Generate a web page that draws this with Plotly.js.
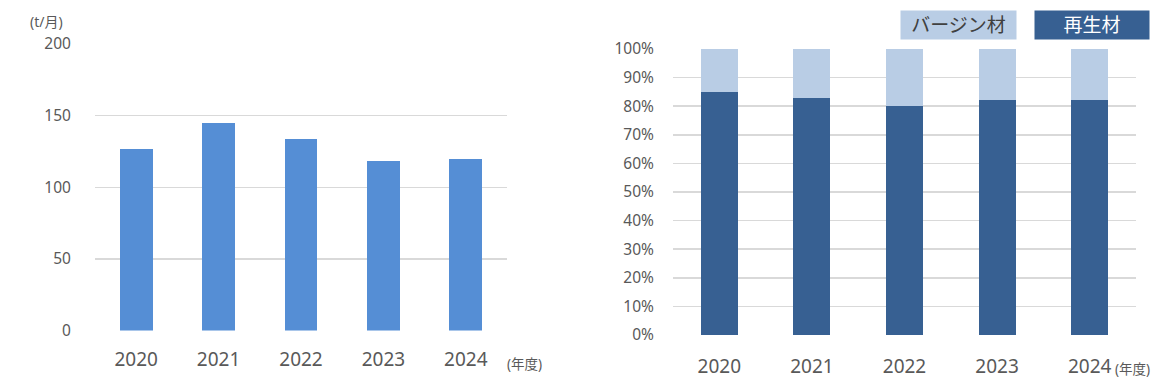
<!DOCTYPE html>
<html>
<head>
<meta charset="utf-8">
<script src="https://cdn.plot.ly/plotly-3.0.1.min.js"></script>
<style>html,body{margin:0;padding:0;background:#fff;}#chart{width:1164px;height:385px;}</style>
</head>
<body>
<div id="chart"></div>
<script>
// Data
const years = ['2020', '2021', '2022', '2023', '2024'];
const volumeTonsPerMonth = [127, 145, 134, 118, 120];
const recycledShare = [85, 83, 80, 82, 82];
const virginShare = [15, 17, 20, 18, 18];
const seriesNames = ['再生材', 'バージン材'];
const volumeUnit = '(t/月)';
const yearUnit = '(年度)';

const FONT = 'Noto Sans, Noto Sans CJK JP, sans-serif';
const GRAY = '#595959';
const GRID = '#d9d9d9';

const traces = [
  {type: 'bar', x: years, y: volumeTonsPerMonth, xaxis: 'x', yaxis: 'y',
   marker: {color: '#558ED5'}, name: '数量', showlegend: false, hoverinfo: 'x+y'},
  {type: 'bar', x: years, y: recycledShare, xaxis: 'x2', yaxis: 'y2',
   marker: {color: '#376092'}, name: seriesNames[0], showlegend: false},
  {type: 'bar', x: years, y: virginShare, xaxis: 'x2', yaxis: 'y2',
   marker: {color: '#B9CDE5'}, name: seriesNames[1], showlegend: false}
];

const xCommon = {type: 'category', showgrid: false, zeroline: false, showline: false,
  ticks: 'outside', tickcolor: 'rgba(0,0,0,0)', tickfont: {family: FONT, size: 19, color: GRAY}};
const yCommon = {showgrid: true, gridcolor: GRID, gridwidth: 1.5, zeroline: false, showline: false,
  ticks: 'outside', tickcolor: 'rgba(0,0,0,0)', tickfont: {family: FONT, size: 15.5, color: GRAY}};

const layout = {
  width: 1164, height: 385,
  margin: {l: 0, r: 0, t: 0, b: 0},
  paper_bgcolor: '#ffffff', plot_bgcolor: '#ffffff',
  barmode: 'stack', bargap: 0.6,
  showlegend: false,
  font: {family: FONT, color: GRAY},
  xaxis: Object.assign({}, xCommon, {domain: [95/1164, 507/1164], anchor: 'y', ticklen: 12}),
  yaxis: Object.assign({}, yCommon, {domain: [1-330.5/385, 1-44/385], anchor: 'x', range: [0, 200], dtick: 50, ticklen: 20}),
  xaxis2: Object.assign({}, xCommon, {domain: [673/1164, 1136/1164], anchor: 'y2', ticklen: 14}),
  yaxis2: Object.assign({}, yCommon, {domain: [1-335/385, 1-49/385], anchor: 'x2', range: [0, 100], dtick: 10, ticksuffix: '%', ticklen: 15}),
  annotations: [
    {text: volumeUnit, xref: 'paper', yref: 'paper', x: 46/1164, y: 1-21/385, showarrow: false,
     xanchor: 'center', yanchor: 'middle', font: {family: FONT, size: 14, color: GRAY}},
    {text: yearUnit, xref: 'paper', yref: 'paper', x: 524.5/1164, y: 1-364/385, showarrow: false,
     xanchor: 'center', yanchor: 'middle', font: {family: FONT, size: 13.5, color: GRAY}},
    {text: yearUnit, xref: 'paper', yref: 'paper', x: 1132/1164, y: 1-369/385, showarrow: false,
     xanchor: 'center', yanchor: 'middle', font: {family: FONT, size: 13.5, color: GRAY}},
    {text: seriesNames[1], xref: 'paper', yref: 'paper', x: 958.5/1164, y: 1-25/385, showarrow: false,
     xanchor: 'center', yanchor: 'middle', width: 115, height: 28, bgcolor: '#B9CDE5', borderpad: 0,
     font: {family: FONT, size: 19, color: '#404040'}},
    {text: seriesNames[0], xref: 'paper', yref: 'paper', x: 1092/1164, y: 1-25/385, showarrow: false,
     xanchor: 'center', yanchor: 'middle', width: 114, height: 28, bgcolor: '#376092', borderpad: 0,
     font: {family: FONT, size: 19, color: '#ffffff'}}
  ]
};

Plotly.newPlot('chart', traces, layout, {displayModeBar: false, staticPlot: true});
</script>
</body>
</html>
